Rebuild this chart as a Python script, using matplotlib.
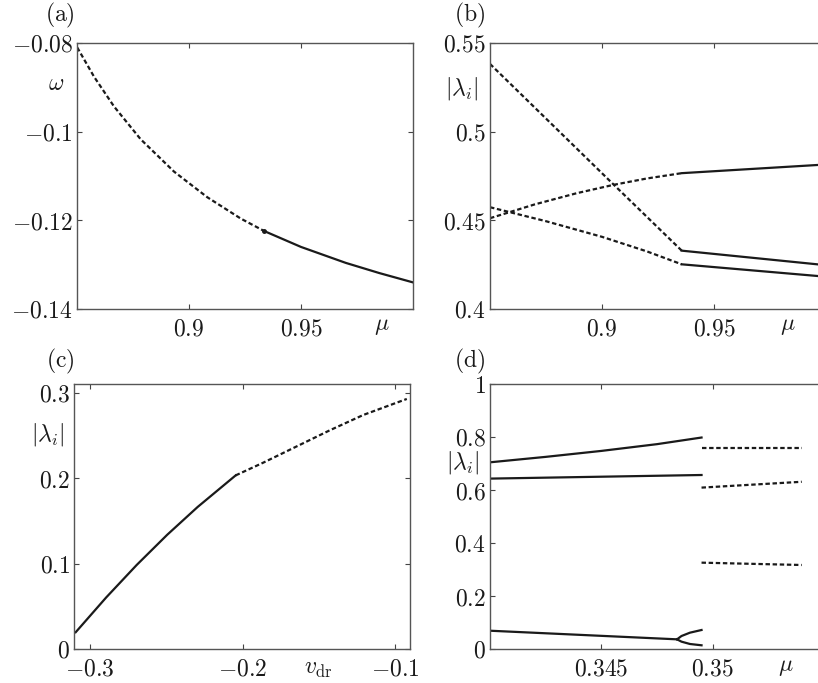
import numpy as np
import matplotlib
matplotlib.use("Agg")
import matplotlib.pyplot as plt
from matplotlib.ticker import FixedLocator, FixedFormatter

plt.rcParams['mathtext.fontset'] = 'cm'
plt.rcParams['font.family'] = 'serif'
plt.rcParams['font.serif'] = ['DejaVu Serif']

# (a) omega vs mu
a_mu_unstable = [0.8501, 0.8576, 0.8665, 0.8784, 0.8933, 0.9082, 0.9231, 0.9335]
a_omega_unstable = [-0.0810, -0.0876, -0.0943, -0.1017, -0.1090, -0.1148, -0.1196, -0.1224]
a_mu_stable = [0.9335, 0.95, 0.97, 0.985, 1.0]
a_omega_stable = [-0.1224, -0.1260, -0.1296, -0.1319, -0.1340]

# (b) |lambda_i| vs mu, three multipliers
b_mu_l1_unstable = [0.85, 0.905, 0.9356]
b_lam_l1_unstable = [0.5382, 0.4704, 0.4329]
b_mu_l1_stable = [0.9356, 1.0]
b_lam_l1_stable = [0.4329, 0.4247]
b_mu_l2_unstable = [0.85, 0.87, 0.8887, 0.9051, 0.92, 0.9356]
b_lam_l2_unstable = [0.4512, 0.4590, 0.4653, 0.4700, 0.4736, 0.4766]
b_mu_l2_stable = [0.9356, 1.0]
b_lam_l2_stable = [0.4766, 0.4815]
b_mu_l3_unstable = [0.85, 0.875, 0.90, 0.92, 0.9356]
b_lam_l3_unstable = [0.4574, 0.4495, 0.4407, 0.4325, 0.4252]
b_mu_l3_stable = [0.9356, 1.0]
b_lam_l3_stable = [0.4252, 0.4182]

# (c) |lambda_i| vs v_dr
c_v_stable = [-0.3094, -0.2894, -0.2694, -0.2494, -0.2294, -0.2045]
c_lam_stable = [0.0196, 0.0603, 0.0983, 0.1336, 0.1662, 0.2031]
c_v_unstable = [-0.2045, -0.1864, -0.1645, -0.1426, -0.1208, -0.0923]
c_lam_unstable = [0.2031, 0.2180, 0.2370, 0.2560, 0.2738, 0.2925]

# (d) |lambda_i| vs mu
d_mu_s1 = [0.34, 0.3425, 0.345, 0.3475, 0.3495]
d_lam_s1 = [0.7045, 0.7250, 0.7475, 0.7730, 0.7980]
d_mu_s2 = [0.34, 0.3495]
d_lam_s2 = [0.643, 0.6566]
d_mu_s3 = [0.34, 0.3484]
d_lam_s3 = [0.069, 0.0365]
d_mu_s3_up = [0.3484, 0.3486, 0.34898, 0.3495]
d_lam_s3_up = [0.0365, 0.049, 0.0616, 0.0717]
d_mu_s3_lo = [0.3484, 0.3486, 0.34898, 0.3495]
d_lam_s3_lo = [0.0365, 0.0277, 0.0189, 0.014]
d_mu_u = [0.3495, 0.354]
d_lam_u1 = [0.760, 0.760]
d_lam_u2 = [0.609, 0.631]
d_lam_u3 = [0.3258, 0.317]

# ticks
a_xticks = [0.9, 0.95]
a_xlabels = ['0.9', '0.95']
a_yticks = [-0.14, -0.12, -0.1, -0.08]
a_ylabels = ['-0.14', '-0.12', '-0.1', '-0.08']
b_xticks = [0.9, 0.95]
b_xlabels = ['0.9', '0.95']
b_yticks = [0.4, 0.45, 0.5, 0.55]
b_ylabels = ['0.4', '0.45', '0.5', '0.55']
c_xticks = [-0.3, -0.2, -0.1]
c_xlabels = ['-0.3', '-0.2', '-0.1']
c_yticks = [0, 0.1, 0.2, 0.3]
c_ylabels = ['0', '0.1', '0.2', '0.3']
d_xticks = [0.345, 0.35]
d_xlabels = ['0.345', '0.35']
d_yticks = [0, 0.2, 0.4, 0.6, 0.8, 1]
d_ylabels = ['0', '0.2', '0.4', '0.6', '0.8', '1']

FS = 17
LW = 1.6
DASH = (0, (2.0, 1.2))
INK = '#1a1a1a'

W, H = 818, 683
fig = plt.figure(figsize=(W / 100, H / 100), dpi=100)


def make_ax(x0, x1, y0, y1):
    return fig.add_axes([x0 / W, 1 - y1 / H, (x1 - x0) / W, (y1 - y0) / H])


def style(ax, xlim, ylim, xt, xl, yt, yl):
    ax.set_xlim(*xlim)
    ax.set_ylim(*ylim)
    ax.xaxis.set_major_locator(FixedLocator(xt))
    ax.xaxis.set_major_formatter(FixedFormatter(['$' + s + '$' for s in xl]))
    ax.yaxis.set_major_locator(FixedLocator(yt))
    ax.yaxis.set_major_formatter(FixedFormatter(['$' + s + '$' for s in yl]))
    ax.tick_params(direction='in', top=True, right=True, length=3.5, width=0.8,
                   labelsize=FS, colors='#444444', labelcolor=INK)
    ax.tick_params(axis='x', pad=6)
    ax.tick_params(axis='y', pad=3)
    for sp in ax.spines.values():
        sp.set_color('#555555')
        sp.set_linewidth(1.0)


def lab(x, y, s, ha='center'):
    fig.text(x / W, 1 - y / H, s, fontsize=FS, ha=ha, va='center', color=INK)


# (a)
ax = make_ax(77, 413, 43, 309)
style(ax, (0.85, 1.0), (-0.14, -0.08), a_xticks, a_xlabels, a_yticks, a_ylabels)
ax.plot(a_mu_unstable, a_omega_unstable, color=INK, lw=LW, ls=DASH)
ax.plot(a_mu_stable, a_omega_stable, color=INK, lw=LW)
ax.plot(a_mu_stable[:1], a_omega_stable[:1], 'o', color=INK, ms=2.5)

# (b)
ax = make_ax(490, 826, 43, 309)
style(ax, (0.85, 1.0), (0.4, 0.55), b_xticks, b_xlabels, b_yticks, b_ylabels)
ax.plot(b_mu_l1_unstable, b_lam_l1_unstable, color=INK, lw=LW, ls=DASH)
ax.plot(b_mu_l1_stable, b_lam_l1_stable, color=INK, lw=LW)
ax.plot(b_mu_l2_unstable, b_lam_l2_unstable, color=INK, lw=LW, ls=DASH)
ax.plot(b_mu_l2_stable, b_lam_l2_stable, color=INK, lw=LW)
ax.plot(b_mu_l3_unstable, b_lam_l3_unstable, color=INK, lw=LW, ls=DASH)
ax.plot(b_mu_l3_stable, b_lam_l3_stable, color=INK, lw=LW)

# (c)
ax = make_ax(74, 410, 384, 649)
style(ax, (-0.3105, -0.0902), (0, 0.31), c_xticks, c_xlabels, c_yticks, c_ylabels)
ax.plot(c_v_stable, c_lam_stable, color=INK, lw=LW)
ax.plot(c_v_unstable, c_lam_unstable, color=INK, lw=LW, ls=DASH)

# (d)
ax = make_ax(490, 824, 384, 649)
style(ax, (0.34, 0.355), (0, 1), d_xticks, d_xlabels, d_yticks, d_ylabels)
ax.plot(d_mu_s1, d_lam_s1, color=INK, lw=LW)
ax.plot(d_mu_s2, d_lam_s2, color=INK, lw=LW)
ax.plot(d_mu_s3, d_lam_s3, color=INK, lw=LW)
ax.plot(d_mu_s3_up, d_lam_s3_up, color=INK, lw=LW)
ax.plot(d_mu_s3_lo, d_lam_s3_lo, color=INK, lw=LW)
for lam in (d_lam_u1, d_lam_u2, d_lam_u3):
    ax.plot(d_mu_u, lam, color=INK, lw=LW, ls=DASH)

# panel letters and axis labels
lab(60, 15, r'$\mathrm{(a)}$')
lab(470, 15, r'$\mathrm{(b)}$')
lab(60, 361, r'$\mathrm{(c)}$')
lab(470, 361, r'$\mathrm{(d)}$')
lab(56, 84, r'$\omega$')
lab(462, 89, r'$|\lambda_i|$')
lab(48, 435, r'$|\lambda_i|$')
lab(463, 462, r'$|\lambda_i|$')
lab(382, 326, r'$\mu$')
lab(788, 326, r'$\mu$')
lab(318, 669, r'$v_{\mathrm{dr}}$')
lab(786, 666, r'$\mu$')

fig.savefig('out.png', dpi=100)
